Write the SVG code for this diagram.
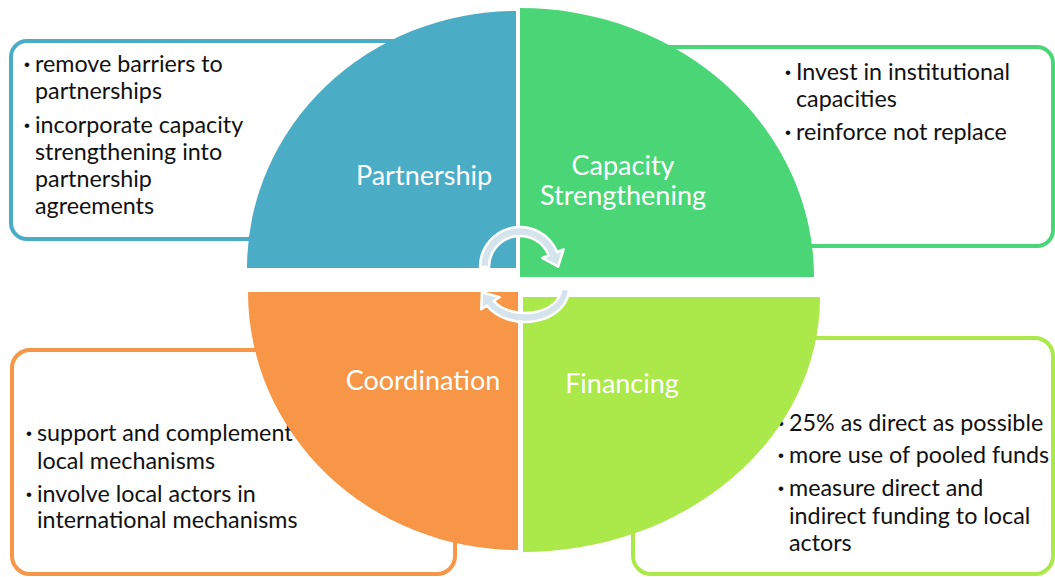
<svg xmlns="http://www.w3.org/2000/svg" width="1055" height="577" viewBox="0 0 1055 577">
  <style>
    .box { fill: #ffffff; stroke-width: 4; }
    .body { font-family: Lato, "Liberation Sans", sans-serif; font-size: 23.3px; fill: #111111; }
    .bul { font-family: "Liberation Sans", sans-serif; font-size: 17px; fill: #111111; }
    .lbl { font-family: Lato, "Liberation Sans", sans-serif; font-size: 27px; fill: #ffffff; text-anchor: middle; }
    .arr { fill: #D5E4EC; stroke: #ffffff; stroke-width: 2.5; stroke-linejoin: round; }
  </style>
  <rect x="0" y="0" width="1055" height="577" fill="#ffffff"/>

  <g id="box-partnership">
    <rect class="box" x="11" y="41" width="420" height="198" rx="16" stroke="#4BACC6"/>
    <text class="bul"><tspan x="24" y="70">•</tspan><tspan x="24" y="131">•</tspan></text>
    <text class="body"><tspan x="35" y="72">remove barriers to</tspan><tspan x="35" y="99">partnerships</tspan><tspan x="35" y="133">incorporate capacity</tspan><tspan x="35" y="160">strengthening into</tspan><tspan x="35" y="187">partnership</tspan><tspan x="35" y="214">agreements</tspan></text>
  </g>

  <g id="box-capacity">
    <rect class="box" x="640" y="47" width="413" height="199" rx="16" stroke="#4AD676"/>
    <text class="bul"><tspan x="785" y="78">•</tspan><tspan x="785" y="138">•</tspan></text>
    <text class="body"><tspan x="796" y="80">Invest in institutional</tspan><tspan x="796" y="107">capacities</tspan><tspan x="796" y="140">reinforce not replace</tspan></text>
  </g>

  <g id="box-coordination">
    <rect class="box" x="12" y="350" width="443" height="224" rx="18" stroke="#F79646"/>
    <text class="bul"><tspan x="26" y="439">•</tspan><tspan x="26" y="500">•</tspan></text>
    <text class="body"><tspan x="37" y="441">support and complement</tspan><tspan x="37" y="469">local mechanisms</tspan><tspan x="37" y="502">involve local actors in</tspan><tspan x="37" y="528">international mechanisms</tspan></text>
  </g>

  <g id="box-financing">
    <rect class="box" x="633" y="338" width="420" height="236" rx="18" stroke="#ABE84A"/>
    <text class="bul"><tspan x="778" y="429">•</tspan><tspan x="778" y="461">•</tspan><tspan x="778" y="494">•</tspan></text>
    <text class="body"><tspan x="789" y="431">25% as direct as possible</tspan><tspan x="789" y="463">more use of pooled funds</tspan><tspan x="789" y="496">measure direct and</tspan><tspan x="789" y="524">indirect funding to local</tspan><tspan x="789" y="551">actors</tspan></text>
  </g>

  <g id="q-partnership">
    <path d="M516 268 L247 268 A269 257 0 0 1 516 11 Z" fill="#4BACC6"/>
    <text class="lbl" x="424" y="185">Partnership</text>
  </g>

  <g id="q-capacity">
    <path d="M520 277 L520 8 A294 269 0 0 1 814 277 Z" fill="#4AD676"/>
    <text class="lbl"><tspan x="623" y="175">Capacity</tspan><tspan x="623" y="205">Strengthening</tspan></text>
  </g>

  <g id="q-coordination">
    <path d="M518 292 L248 292 A270 258 0 0 0 518 550 Z" fill="#F79646"/>
    <text class="lbl" x="423" y="390">Coordination</text>
  </g>

  <g id="q-financing">
    <path d="M523 297 L820 297 A297 255 0 0 1 523 552 Z" fill="#ABE84A"/>
    <text class="lbl" x="622" y="393">Financing</text>
  </g>

  <g id="connectors">
    <path class="arr" d="M480 267 A40 40 0 0 1 557.09 252.02 L563.58 249.39 L558.16 266.68 L542.25 258.01 L548.74 255.39 A31 31 0 0 0 489 267 Z"/>
    <path class="arr" d="M569 289 A44 33 0 0 1 486.9 305.5 L481.2 309.3 L481.9 292.2 L499.6 297.3 L493.8 301 A36 24 0 0 0 561 289 Z"/>
  </g>
</svg>
